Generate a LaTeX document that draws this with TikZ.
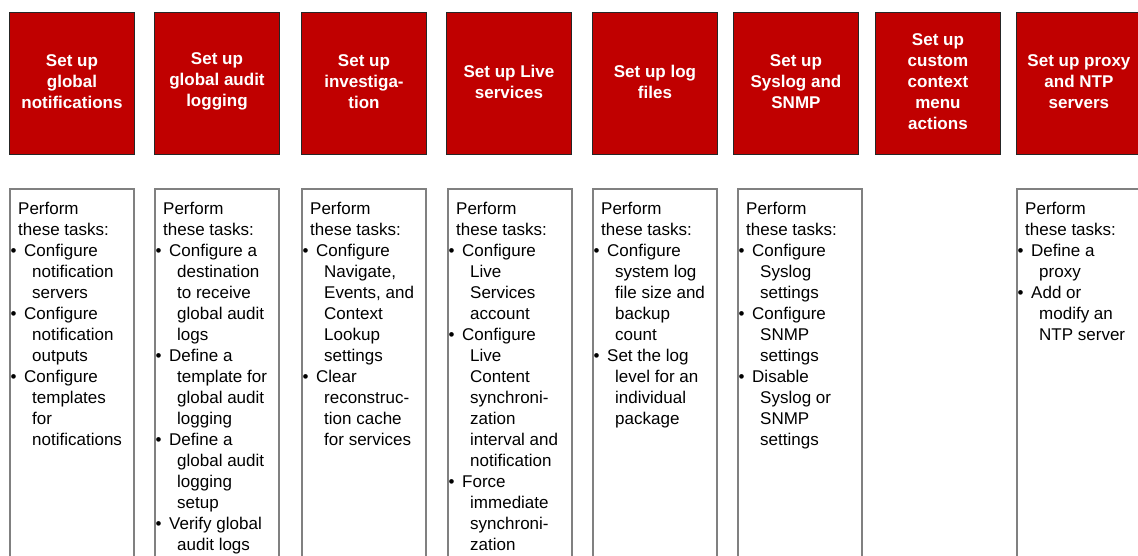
\documentclass[tikz,border=0pt]{standalone}
\usepackage{fontspec}
\setmainfont{Liberation Sans}
\definecolor{boxred}{RGB}{192,0,0}
\newcommand\tkHead[1]{\hspace*{8pt}#1}
\newcommand\tkBul[1]{\makebox[14pt][l]{\hspace*{0.5pt}•}#1}
\newcommand\tkCont[1]{\hspace*{22pt}#1}
\begin{document}
\begin{tikzpicture}[x=1pt,y=-1pt,
  redbox/.style={draw=black!85, line width=0.9pt, fill=boxred, minimum width=125pt,
    minimum height=142pt, anchor=north west, inner sep=0pt, text=white,
    font=\bfseries\fontsize{17}{21}\selectfont, align=center},
  redtext/.style={anchor=center, inner sep=0pt, text=white, align=center,
    font=\bfseries\fontsize{17}{21}\selectfont},
  taskbox/.style={draw=black!50, line width=1.5pt, minimum width=124pt,
    minimum height=440pt, anchor=north west, inner sep=0pt},
  tasktext/.style={anchor=north west, inner sep=0pt, align=left,
    font=\fontsize{17}{21}\selectfont, text=black}]
\path[use as bounding box] (0,0) rectangle (1138,555);
\fill[white] (0,0) rectangle (1138,555);
\clip (0,0) rectangle (1138,555);

% header boxes
\node[redbox] (r1) at (9,12)    {};
\node[redbox] (r2) at (154,12)  {};
\node[redbox] (r3) at (301,12)  {};
\node[redbox] (r4) at (446,12)  {};
\node[redbox] (r5) at (592,12)  {};
\node[redbox] (r6) at (733,12)  {};
\node[redbox] (r7) at (875,12)  {};
\node[redbox] (r8) at (1016,12) {};
\node[redtext] (h1) at ([yshift=2pt]r1.center) {Set up\\global\\notifications};
\node[redtext] (h2) at ([yshift=2pt]r2.center) {Set up\\global audit\\logging};
\node[redtext] (h3) at ([yshift=2pt]r3.center) {Set up\\investiga-\\tion};
\node[redtext] (h4) at ([yshift=2pt]r4.center) {Set up Live\\services};
\node[redtext] (h5) at ([yshift=2pt]r5.center) {Set up log\\files};
\node[redtext] (h6) at ([yshift=2pt]r6.center) {Set up\\Syslog and\\SNMP};
\node[redtext] (h7) at ([yshift=2pt]r7.center) {Set up\\custom\\context\\menu\\actions};
\node[redtext] (h8) at ([yshift=2pt]r8.center) {Set up proxy\\and NTP\\servers};

% task boxes
\node[taskbox] (w1) at (9,188) {};
\node[taskbox] (w2) at (154,188) {};
\node[taskbox] (w3) at (301,188) {};
\node[taskbox] (w4) at (447,188) {};
\node[taskbox] (w5) at (592,188) {};
\node[taskbox] (w6) at (737,188) {};
\node[taskbox] (w8) at (1016,188) {};

% task texts
\node[tasktext] (t1) at ([xshift=1pt,yshift=-14pt]w1.north west) {%
\tkHead{Perform}\\\tkHead{these tasks:}\\
\tkBul{Configure}\\\tkCont{notification}\\\tkCont{servers}\\
\tkBul{Configure}\\\tkCont{notification}\\\tkCont{outputs}\\
\tkBul{Configure}\\\tkCont{templates}\\\tkCont{for}\\\tkCont{notifications}};

\node[tasktext] (t2) at ([xshift=1pt,yshift=-14pt]w2.north west) {%
\tkHead{Perform}\\\tkHead{these tasks:}\\
\tkBul{Configure a}\\\tkCont{destination}\\\tkCont{to receive}\\\tkCont{global audit}\\\tkCont{logs}\\
\tkBul{Define a}\\\tkCont{template for}\\\tkCont{global audit}\\\tkCont{logging}\\
\tkBul{Define a}\\\tkCont{global audit}\\\tkCont{logging}\\\tkCont{setup}\\
\tkBul{Verify global}\\\tkCont{audit logs}};

\node[tasktext] (t3) at ([xshift=1pt,yshift=-14pt]w3.north west) {%
\tkHead{Perform}\\\tkHead{these tasks:}\\
\tkBul{Configure}\\\tkCont{Navigate,}\\\tkCont{Events, and}\\\tkCont{Context}\\\tkCont{Lookup}\\\tkCont{settings}\\
\tkBul{Clear}\\\tkCont{reconstruc-}\\\tkCont{tion cache}\\\tkCont{for services}};

\node[tasktext] (t4) at ([xshift=1pt,yshift=-14pt]w4.north west) {%
\tkHead{Perform}\\\tkHead{these tasks:}\\
\tkBul{Configure}\\\tkCont{Live}\\\tkCont{Services}\\\tkCont{account}\\
\tkBul{Configure}\\\tkCont{Live}\\\tkCont{Content}\\\tkCont{synchroni-}\\\tkCont{zation}\\\tkCont{interval and}\\\tkCont{notification}\\
\tkBul{Force}\\\tkCont{immediate}\\\tkCont{synchroni-}\\\tkCont{zation}};

\node[tasktext] (t5) at ([xshift=1pt,yshift=-14pt]w5.north west) {%
\tkHead{Perform}\\\tkHead{these tasks:}\\
\tkBul{Configure}\\\tkCont{system log}\\\tkCont{file size and}\\\tkCont{backup}\\\tkCont{count}\\
\tkBul{Set the log}\\\tkCont{level for an}\\\tkCont{individual}\\\tkCont{package}};

\node[tasktext] (t6) at ([xshift=1pt,yshift=-14pt]w6.north west) {%
\tkHead{Perform}\\\tkHead{these tasks:}\\
\tkBul{Configure}\\\tkCont{Syslog}\\\tkCont{settings}\\
\tkBul{Configure}\\\tkCont{SNMP}\\\tkCont{settings}\\
\tkBul{Disable}\\\tkCont{Syslog or}\\\tkCont{SNMP}\\\tkCont{settings}};

\node[tasktext] (t8) at ([xshift=1pt,yshift=-14pt]w8.north west) {%
\tkHead{Perform}\\\tkHead{these tasks:}\\
\tkBul{Define a}\\\tkCont{proxy}\\
\tkBul{Add or}\\\tkCont{modify an}\\\tkCont{NTP server}};
\end{tikzpicture}
\end{document}
